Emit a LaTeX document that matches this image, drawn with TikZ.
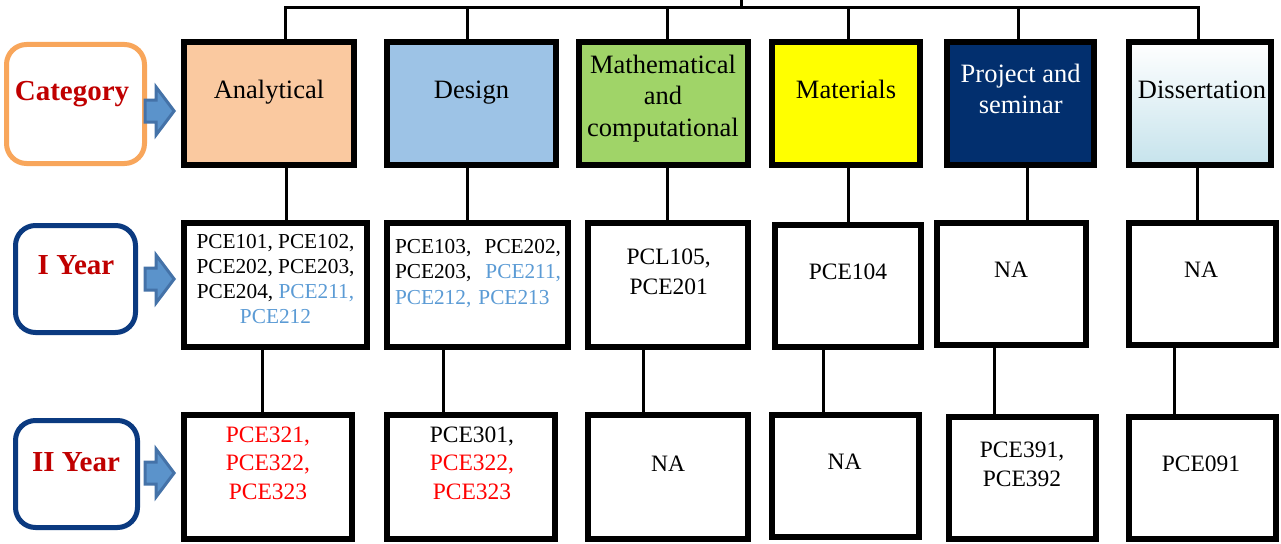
\documentclass[tikz,border=0pt]{standalone}
\usepackage{fontspec}
\setmainfont{Liberation Serif}
\usetikzlibrary{shapes.arrows}
\definecolor{catred}{HTML}{C00000}
\definecolor{lblue}{HTML}{5B9BD5}
\definecolor{anafill}{HTML}{FAC9A0}
\definecolor{desfill}{HTML}{9DC3E6}
\definecolor{matfill}{HTML}{A0D468}
\definecolor{mtrfill}{HTML}{FFFF00}
\definecolor{projfill}{HTML}{022F6E}
\definecolor{dissfill}{HTML}{C6E3EC}
\definecolor{catedge}{HTML}{F8A65B}
\definecolor{yearedge}{HTML}{0B3A80}
\definecolor{arrfill}{HTML}{5B93CB}
\definecolor{arredge}{HTML}{4472A8}
\definecolor{pured}{HTML}{FF0000}
\tikzset{
  box/.style={draw, line width=6pt, fill=white, minimum height=124pt, inner sep=0pt},
  title/.style={font=\fontsize{26.5}{31.5}\selectfont, align=center, anchor=base, inner sep=0pt},
  codes/.style={font=\fontsize{23.5}{29}\selectfont, align=center, anchor=base, inner sep=0pt},
  codesm/.style={font=\fontsize{21.3}{24.8}\selectfont, align=center, anchor=base, inner sep=0pt},
  tagbox/.style={draw, line width=5pt, fill=white, rounded corners=20pt, minimum height=107pt},
  tagtext/.style={font=\fontsize{29}{34}\selectfont\bfseries, text=catred, anchor=base, inner sep=0pt},
  link/.style={line width=3pt},
  blk/.style={single arrow, draw=arredge, fill=arrfill, line width=3pt, inner sep=0pt,
    text height=9.5pt, text depth=9.5pt, single arrow head extend=13pt,
    single arrow tip angle=106, minimum height=29pt, anchor=tip}
}
\begin{document}
\begin{tikzpicture}[x=1pt,y=-1pt]
\useasboundingbox (0,0) rectangle (1281,543);
\node[tagbox, draw=catedge, minimum width=138pt, minimum height=119pt] (cat) at (75.5,104) {};
\node[tagbox, draw=yearedge, minimum width=120pt] (yr1) at (75.5,279) {};
\node[tagbox, draw=yearedge, minimum width=122pt] (yr2) at (76.5,474) {};
\node[tagtext] (catt) at (72,100) {Category};
\node[tagtext] (yr1t) at (76,274) {I Year};
\node[tagtext] (yr2t) at (76,471.7) {II Year};

\node[box, fill=anafill, minimum width=170pt, minimum height=123pt] (an1) at (269,103.5) {};
\node[box, fill=desfill, minimum width=169pt, minimum height=123pt] (de1) at (471.5,103.5) {};
\node[box, fill=matfill, minimum width=169pt, minimum height=123pt] (ma1) at (663.5,103.5) {};
\node[box, fill=mtrfill, minimum width=148pt, minimum height=123pt] (mt1) at (846,103.5) {};
\node[box, fill=projfill, minimum width=147pt, minimum height=123pt] (pr1) at (1020.5,103.5) {};
\node[box, top color=white, bottom color=dissfill, minimum width=142pt, minimum height=123pt] (di1) at (1200,103.5) {};

\node[box, minimum width=183pt] (an2) at (275.5,285) {};
\node[box, minimum width=181pt] (de2) at (477.5,285) {};
\node[box, minimum width=160pt] (ma2) at (668,285) {};
\node[box, minimum width=146pt, minimum height=122pt] (mt2) at (848,286) {};
\node[box, minimum width=149pt, minimum height=122pt] (pr2) at (1011.5,284) {};
\node[box, minimum width=147pt, minimum height=122pt] (di2) at (1202.5,284) {};

\node[box, minimum width=168pt] (an3) at (268,477) {};
\node[box, minimum width=168pt] (de3) at (471,477) {};
\node[box, minimum width=160pt] (ma3) at (668,477) {};
\node[box, minimum width=147pt, minimum height=122pt] (mt3) at (845.5,476) {};
\node[box, minimum width=147pt, minimum height=122pt] (pr3) at (1022.5,478) {};
\node[box, minimum width=147pt, minimum height=122pt] (di3) at (1202.5,478) {};

\node[title] (an1t) at (269,98) {Analytical};
\node[title] (de1t) at (471.5,98.3) {Design};
\node[title] (ma1t) at (663,136) {Mathematical\\and\\computational};
\node[title] (mt1t) at (846,98.3) {Materials};
\node[title, text=white, font=\fontsize{26.5}{30.5}\selectfont] (pr1t) at (1020.7,113) {Project and\\seminar};
\node[title] (di1t) at (1202,98) {Dissertation};

\node[codesm] (an2t) at (275.5,323) {PCE101, PCE102,\\PCE202, PCE203,\\PCE204, \textcolor{lblue}{PCE211,}\\\textcolor{lblue}{PCE212}};
\node[codesm, align=left, text width=166pt, font=\fontsize{21.3}{25.4}\selectfont] (de2t) at (478,253.3)
  {PCE103,\hfill PCE202,\\PCE203,\hfill \textcolor{lblue}{PCE211,}\\\textcolor{lblue}{PCE212, PCE213}};
\node[codes, font=\fontsize{23.5}{29.7}\selectfont] (ma2t) at (668.7,294) {PCL105,\\PCE201};
\node[codes] (mt2t) at (848,279.3) {PCE104};
\node[codes] (pr2t) at (1011,277.7) {NA};
\node[codes] (di2t) at (1201,277.7) {NA};

\node[codes, text=pured, font=\fontsize{23.5}{28.5}\selectfont] (an3t) at (268,499) {PCE321,\\PCE322,\\PCE323};
\node[codes, font=\fontsize{23.5}{28.5}\selectfont] (de3t) at (472,499) {PCE301,\\\textcolor{pured}{PCE322,}\\\textcolor{pured}{PCE323}};
\node[codes] (ma3t) at (668,471.7) {NA};
\node[codes] (mt3t) at (844.7,469.3) {NA};
\node[codes] (pr3t) at (1022,486.7) {PCE391,\\PCE392};
\node[codes] (di3t) at (1201,471.7) {PCE091};

\node[blk] (ar0) at ([xshift=-5pt]an1.west |- 0,111) {};
\node[blk] (ar1) at ([xshift=-5pt]an2.west |- 0,279) {};
\node[blk] (ar2) at ([xshift=-5pt]an3.west |- 0,473) {};

\coordinate (bus) at (741,8);
\coordinate (top) at (741,-4);
\draw[link] (bus) -- (top);
\foreach \n/\x in {an1/285,de1/467,ma1/667,mt1/848,pr1/1018,di1/1198}
  \draw[link] (\n.north -| \x,0) |- (bus);
\foreach \a/\b/\x in {an1/an2/286,de1/de2/467,ma1/ma2/667,mt1/mt2/848,pr1/pr2/1027,di1/di2/1197}
  \draw[link] (\a.south -| \x,0) -- (\b.north -| \x,0);
\foreach \a/\b/\x in {an2/an3/262,de2/de3/443,ma2/ma3/643,mt2/mt3/823,pr2/pr3/994,di2/di3/1174}
  \draw[link] (\a.south -| \x,0) -- (\b.north -| \x,0);
\end{tikzpicture}
\end{document}
